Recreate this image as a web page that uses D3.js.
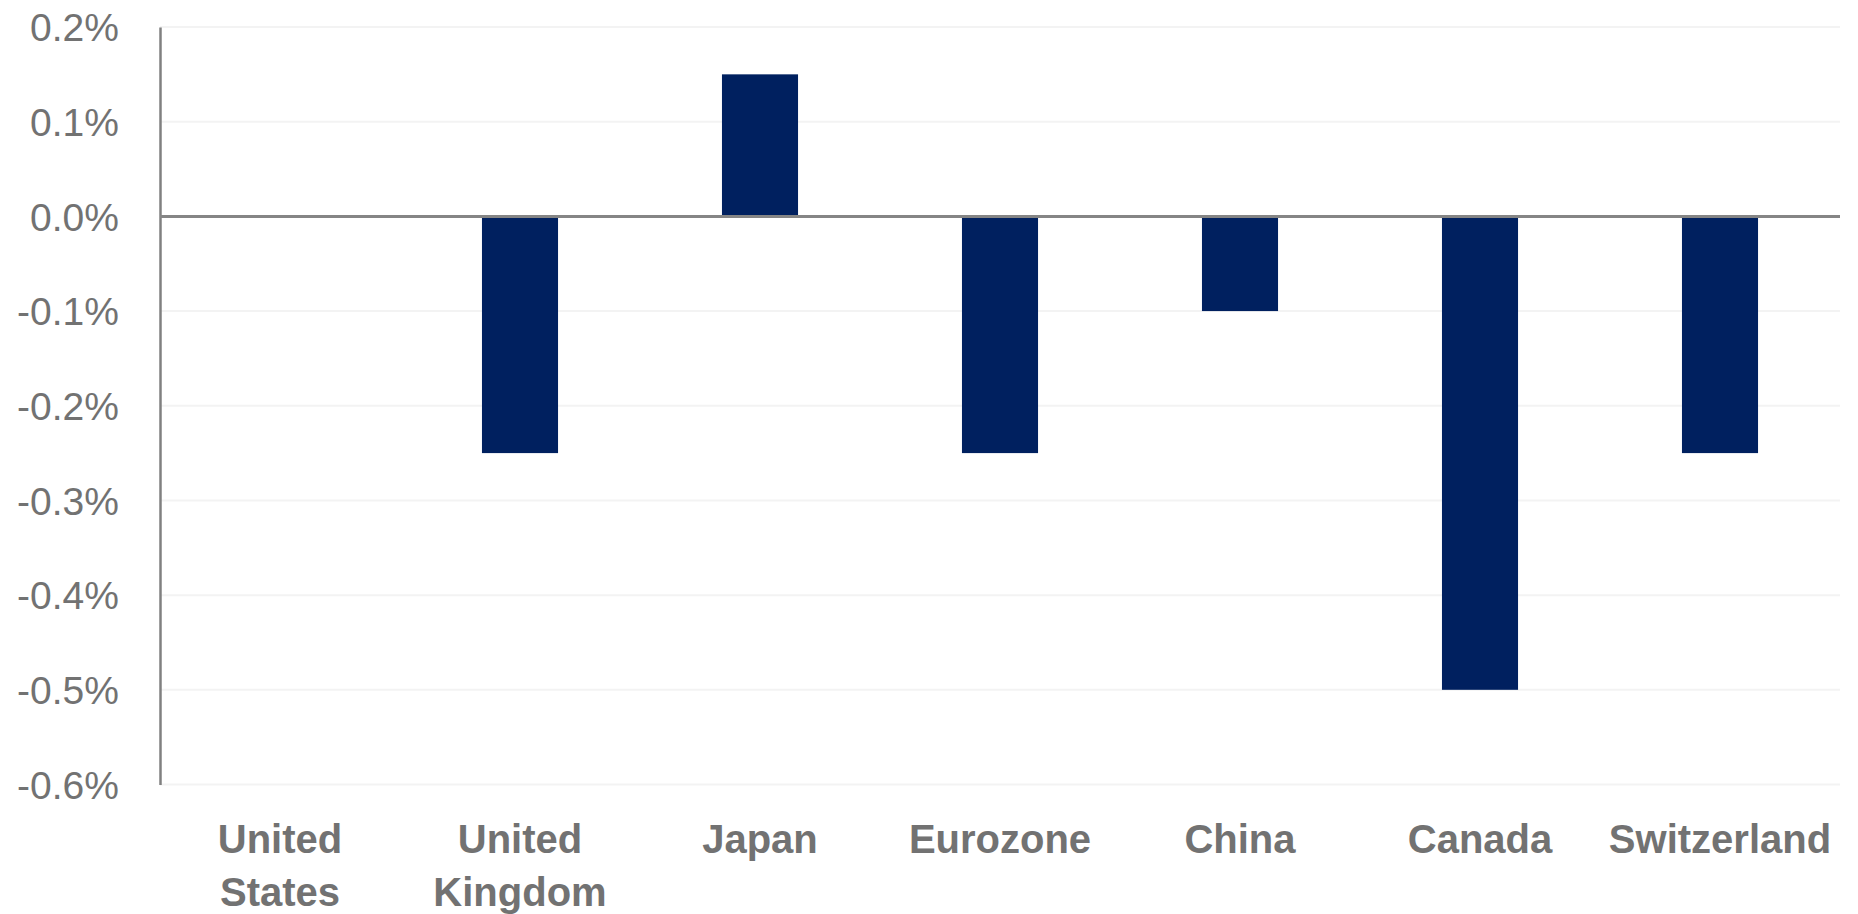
<!DOCTYPE html>
<html>
<head>
<meta charset="utf-8">
<script src="https://cdn.jsdelivr.net/npm/d3@7"></script>
<style>
  html, body { margin: 0; padding: 0; background: #ffffff; }
  svg { display: block; }
</style>
</head>
<body>
<svg id="chart" width="1858" height="914"></svg>
<script>
const categories = ["United States", "United Kingdom", "Japan", "Eurozone", "China", "Canada", "Switzerland"];
const categoryLines = [["United", "States"], ["United", "Kingdom"], ["Japan"], ["Eurozone"], ["China"], ["Canada"], ["Switzerland"]];
const values = [0, -0.25, 0.15, -0.25, -0.10, -0.50, -0.25];
const yTicks = [0.2, 0.1, 0.0, -0.1, -0.2, -0.3, -0.4, -0.5, -0.6];

(function () {
const svg = d3.select("#chart");
const plotLeft = 160, plotRight = 1840, plotTop = 27, plotBottom = 784.5;

const x = d3.scaleBand().domain(categories).range([plotLeft, plotRight]).paddingInner(0.683).paddingOuter(0.3415);
const y = d3.scaleLinear().domain([-0.6, 0.2]).range([plotBottom, plotTop]);

// gridlines
svg.append("g").selectAll("line").data(yTicks.filter(d => d !== 0)).join("line")
  .attr("x1", plotLeft).attr("x2", plotRight)
  .attr("y1", d => y(d)).attr("y2", d => y(d))
  .attr("stroke", "#f3f3f3").attr("stroke-width", 2);

// bars
svg.append("g").selectAll("rect").data(categories).join("rect")
  .attr("x", d => x(d))
  .attr("width", x.bandwidth())
  .attr("y", (d, i) => y(Math.max(0, values[i])))
  .attr("height", (d, i) => Math.abs(y(values[i]) - y(0)))
  .attr("fill", "#00205f");

// y axis
const yAxis = d3.axisLeft(y).tickValues(yTicks).tickSize(0).tickPadding(41)
  .tickFormat(d => d3.format(".1f")(d).replace("\u2212", "-") + "%");
const ga = svg.append("g").attr("transform", `translate(${plotLeft},0)`).call(yAxis);
ga.select(".domain").attr("stroke", "#808080").attr("stroke-width", 2.5);
ga.selectAll("text")
  .attr("font-family", "'Liberation Sans', Arial, sans-serif")
  .attr("font-size", 39).attr("fill", "#727272")
  .attr("dy", "0.35em");

// zero line
svg.append("line")
  .attr("x1", plotLeft).attr("x2", plotRight)
  .attr("y1", y(0)).attr("y2", y(0))
  .attr("stroke", "#858585").attr("stroke-width", 3);

// category labels
const gx = svg.append("g");
categories.forEach((c, i) => {
  const cx = x(c) + x.bandwidth() / 2;
  const t = gx.append("text")
    .attr("x", cx)
    .attr("y", 853)
    .attr("text-anchor", "middle")
    .attr("font-family", "'Liberation Sans', Arial, sans-serif")
    .attr("font-weight", "bold")
    .attr("font-size", 40)
    .attr("fill", "#727272");
  categoryLines[i].forEach((ln, j) => {
    t.append("tspan").attr("x", cx).attr("dy", j === 0 ? 0 : 53).text(ln);
  });
});
})();
</script>
</body>
</html>
